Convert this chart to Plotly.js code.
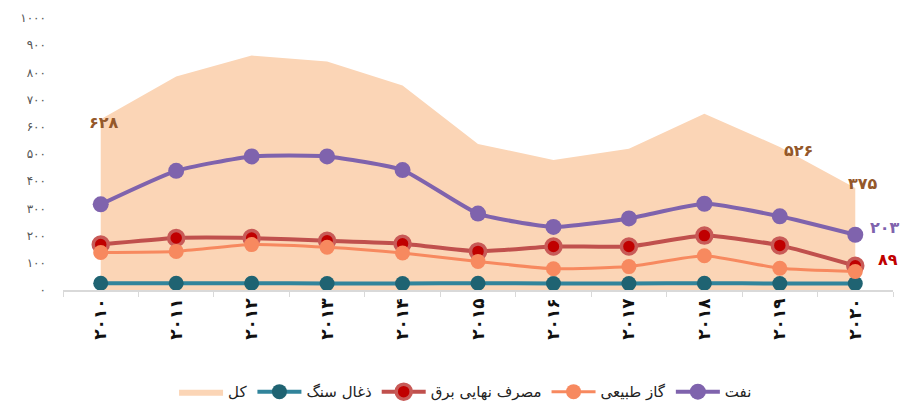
<!DOCTYPE html>
<html>
<head>
<meta charset="utf-8">
<script src="https://cdn.plot.ly/plotly-3.0.1.min.js"></script>
<style>html,body{margin:0;padding:0;background:#fff;}#chart{width:904px;height:404px;}</style>
</head>
<body>
<div id="chart"></div>
<script>
const years = ['۲۰۱۰','۲۰۱۱','۲۰۱۲','۲۰۱۳','۲۰۱۴','۲۰۱۵','۲۰۱۶','۲۰۱۷','۲۰۱۸','۲۰۱۹','۲۰۲۰'];
const total = [628, 785, 862, 840, 752, 537, 478, 519, 648, 526, 375];
const coal = [25, 25, 25, 24, 24, 25, 24, 24, 25, 24, 24];
const electricity = [167, 191, 191, 181, 170, 142, 160, 160, 200, 164, 89];
const gas = [138, 142, 167, 157, 136, 105, 78, 86, 126, 80, 68];
const oil = [315, 438, 491, 491, 441, 281, 232, 263, 317, 271, 203];
const yTickVals = [0,100,200,300,400,500,600,700,800,900,1000];
const yTickText = ['۰','۱۰۰','۲۰۰','۳۰۰','۴۰۰','۵۰۰','۶۰۰','۷۰۰','۸۰۰','۹۰۰','۱۰۰۰'];
const names = ['کل','ذغال سنگ','مصرف نهایی برق','گاز طبیعی','نفت'];
const labelTexts = {total0:'۶۲۸', total9:'۵۲۶', total10:'۳۷۵', oil10:'۲۰۳', elec10:'۸۹'};

const F = 'DejaVu Sans';
const traces = [
  {x: years, y: total, name: names[0], type:'scatter', mode:'lines', fill:'tozeroy',
   fillcolor:'#FBD5B6', line:{color:'#FBD5B6', width:0}},
  {x: years, y: coal, name: names[1], type:'scatter', mode:'lines+markers',
   line:{color:'#31849B', width:4, shape:'spline', smoothing:0.5},
   marker:{color:'#1F6372', size:15}},
  {x: years, y: electricity, name: names[2], type:'scatter', mode:'lines+markers',
   line:{color:'#C0504D', width:4, shape:'spline', smoothing:0.5},
   marker:{color:'#C00000', size:15, line:{color:'#C85A57', width:3.5}}},
  {x: years, y: gas, name: names[3], type:'scatter', mode:'lines+markers',
   line:{color:'#F7895F', width:3, shape:'spline', smoothing:0.5},
   marker:{color:'#F7895F', size:15}},
  {x: years, y: oil, name: names[4], type:'scatter', mode:'lines+markers',
   line:{color:'#7F63AD', width:4, shape:'spline', smoothing:0.5},
   marker:{color:'#7F63AD', size:16}}
];

const layout = {
  width: 904, height: 404,
  margin: {l:63, r:11, t:18, b:114},
  paper_bgcolor:'#ffffff', plot_bgcolor:'rgba(0,0,0,0)',
  font: {family: F, color:'#333'},
  showlegend: true,
  legend: {orientation:'h', xref:'container', yref:'container', x:0.515, xanchor:'center', y:0.03, yanchor:'middle',
    font:{family:F, size:15, color:'#222'}, traceorder:'normal', itemwidth:44},
  xaxis: {type:'category', range:[-0.5, 10.5], showgrid:false, zeroline:false, automargin:false,
    showline:true, linecolor:'#d9d9d9', linewidth:1.5, ticks:'outside', tickson:'boundaries',
    ticklen:5, tickcolor:'#d9d9d9', tickangle:-90,
    tickfont:{family:F, size:17, color:'#111', weight:'bold'}},
  yaxis: {range:[0,1000], showgrid:false, zeroline:false, showline:false, automargin:false,
    tickvals: yTickVals, ticktext: yTickText, ticks:'', ticklabelstandoff:16,
    tickfont:{family:F, size:12, color:'#555'}},
  annotations: [
    {x: years[0], y: total[0], text: labelTexts.total0, showarrow:false, xanchor:'right', xshift:20, yshift:-3,
     font:{family:F, size:16, color:'#94582A', weight:'bold'}},
    {x: years[9], y: total[9], text: labelTexts.total9, showarrow:false, xanchor:'center', xshift:19, yshift:-4,
     font:{family:F, size:16, color:'#94582A', weight:'bold'}},
    {x: years[10], y: total[10], text: labelTexts.total10, showarrow:false, xanchor:'center', xshift:8, yshift:5,
     font:{family:F, size:16, color:'#94582A', weight:'bold'}},
    {x: years[10], y: oil[10], text: labelTexts.oil10, showarrow:false, xanchor:'left', xshift:13, yshift:7,
     font:{family:F, size:16, color:'#7F63AD', weight:'bold'}},
    {x: years[10], y: electricity[10], text: labelTexts.elec10, showarrow:false, xanchor:'left', xshift:21, yshift:6,
     font:{family:F, size:16, color:'#C00000', weight:'bold'}}
  ]
};
Plotly.newPlot('chart', traces, layout, {displayModeBar:false, staticPlot:true});
</script>
</body>
</html>
